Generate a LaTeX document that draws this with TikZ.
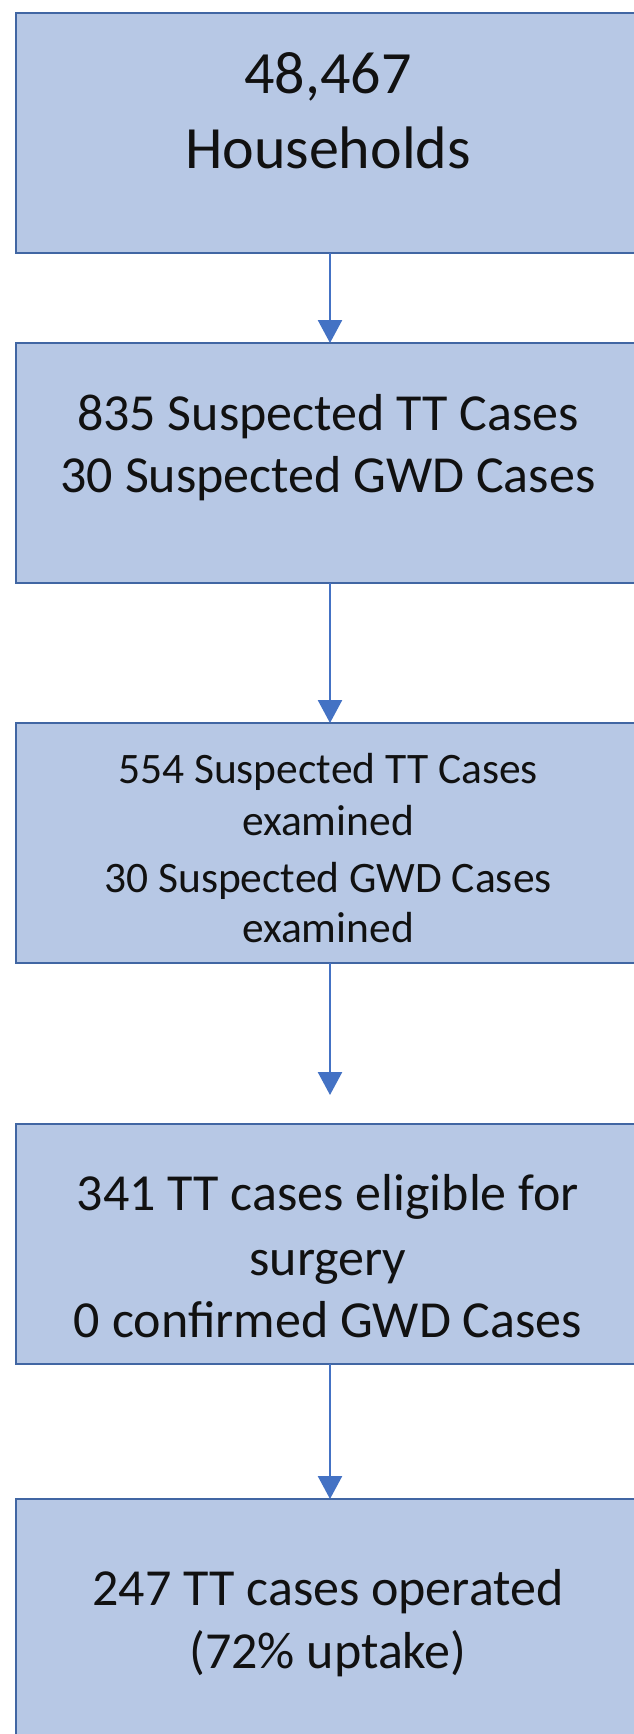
\documentclass[tikz,border=0pt]{standalone}
\usepackage{fontspec}
\setmainfont{Carlito}
\usetikzlibrary{arrows.meta}
\definecolor{boxfill}{HTML}{B7C8E5}
\definecolor{boxline}{HTML}{4166A3}
\definecolor{arrowc}{HTML}{4472C4}
\definecolor{txtc}{HTML}{111111}
\begin{document}
\begin{tikzpicture}[x=1pt,y=-1pt,
  flowbox/.style={draw=boxline, fill=boxfill, line width=2.5pt, rectangle,
    minimum width=628pt, minimum height=240pt, anchor=north west,
    inner sep=0pt, outer sep=0pt},
  txtbase/.style={text=txtc, anchor=base, inner sep=0pt, outer sep=0pt},
  bigtxt/.style={txtbase, font=\fontsize{60}{72}\selectfont},
  midtxt/.style={txtbase, font=\fontsize{52}{62}\selectfont},
  smalltxt/.style={txtbase, font=\fontsize{43.5}{52}\selectfont},
  flowarrow/.style={draw=arrowc, line width=2.5pt, -{Triangle[width=24pt,length=23pt]}}
]
\useasboundingbox (0,0) rectangle (634,1734);
\clip (0,0) rectangle (634,1734);
\fill[white] (0,0) rectangle (634,1734);

% boxes (their right side runs off the picture, as in the reference)
\node[flowbox] (b1) at (16,13) {};
\node[flowbox] (b2) at (16,343) {};
\node[flowbox] (b3) at (16,723) {};
\node[flowbox] (b4) at (16,1124) {};
\node[flowbox, minimum height=250pt] (b5) at (16,1499) {};

% texts
\node[bigtxt] (t1a) at (328,94) {48,467};
\node[bigtxt] (t1b) at (328,168) {Households};

\node[midtxt] (t2a) at (328,430) {835 Suspected TT Cases};
\node[midtxt] (t2b) at (328,492) {30 Suspected GWD Cases};

\node[smalltxt] (t3a) at (328,783) {554 Suspected TT Cases};
\node[smalltxt] (t3b) at (328,835) {examined};
\node[smalltxt] (t3c) at (328,892) {30 Suspected GWD Cases};
\node[smalltxt] (t3d) at (328,942) {examined};

\node[midtxt] (t4a) at (328,1210) {341 TT cases eligible for};
\node[midtxt] (t4b) at (328,1275) {surgery};
\node[midtxt] (t4c) at (328,1337) {0 confirmed GWD Cases};

\node[midtxt] (t5a) at (328,1605) {247 TT cases operated};
\node[midtxt] (t5b) at (328,1668) {(72\% uptake)};

% connectors
\coordinate (a3end) at (330,1095);
\draw[flowarrow] (b1.south) -- (b2.north);
\draw[flowarrow] (b2.south) -- (b3.north);
\draw[flowarrow] (b3.south) -- (a3end);
\draw[flowarrow] (b4.south) -- (b5.north);
\end{tikzpicture}
\end{document}
